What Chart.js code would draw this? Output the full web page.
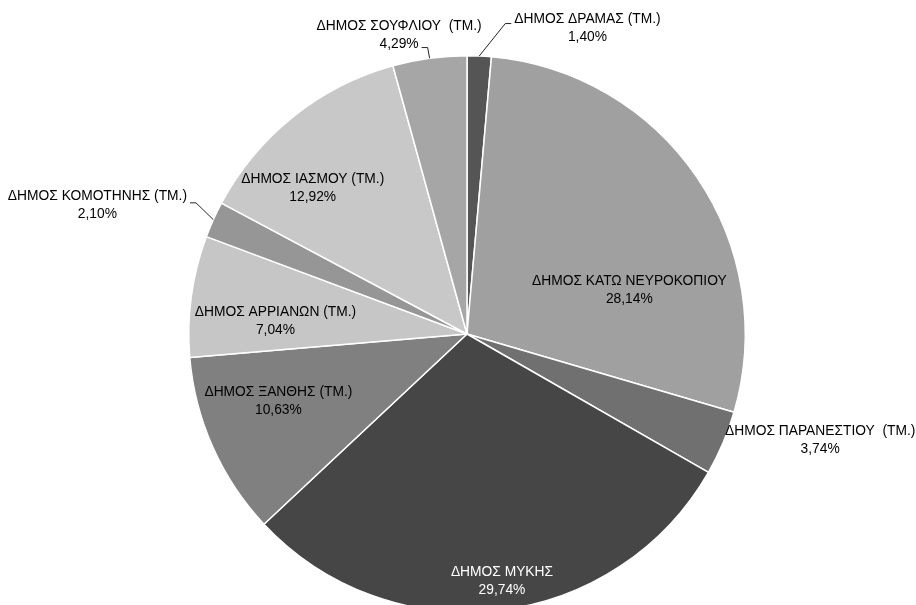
<!DOCTYPE html>
<html>
<head>
<meta charset="utf-8">
<script src="https://cdn.jsdelivr.net/npm/chart.js@4/dist/chart.umd.min.js"></script>
<style>
    html, body { margin: 0; padding: 0; background: #fff; }
    #wrap { width: 916px; height: 605px; overflow: hidden; position: relative; }
</style>
</head>
<body>
<div id="wrap"><canvas id="pieChart" width="916" height="668"></canvas></div>
<script>
const municipalities = [
    "ΔΗΜΟΣ ΔΡΑΜΑΣ (ΤΜ.)",
    "ΔΗΜΟΣ ΚΑΤΩ ΝΕΥΡΟΚΟΠΙΟΥ",
    "ΔΗΜΟΣ ΠΑΡΑΝΕΣΤΙΟΥ  (ΤΜ.)",
    "ΔΗΜΟΣ ΜΥΚΗΣ",
    "ΔΗΜΟΣ ΞΑΝΘΗΣ (ΤΜ.)",
    "ΔΗΜΟΣ ΑΡΡΙΑΝΩΝ (ΤΜ.)",
    "ΔΗΜΟΣ ΚΟΜΟΤΗΝΗΣ (ΤΜ.)",
    "ΔΗΜΟΣ ΙΑΣΜΟΥ (ΤΜ.)",
    "ΔΗΜΟΣ ΣΟΥΦΛΙΟΥ  (ΤΜ.)"
];
const shares = [1.40, 28.14, 3.74, 29.74, 10.63, 7.04, 2.10, 12.92, 4.29];

const sliceColors = ["#555555", "#a0a0a0", "#707070", "#464646", "#808080",
                     "#c6c6c6", "#969696", "#c8c8c8", "#a6a6a6"];
const labelColors = ["#000", "#000", "#000", "#fff", "#000", "#000", "#000", "#000", "#000"];

// label placement: radius fraction + angle shift (deg) from the slice middle
const placement = [
    { frac: 1.18, shift: 19.0, leader: { side: "left", line: 0, dy: -5 } },
    { frac: 0.604, shift: 19.3 },
    { frac: 1.325, shift: -6.4 },
    { frac: 0.896, shift: -1.4 },
    { frac: 0.72, shift: 4.3 },
    { frac: 0.69, shift: -3.9 },
    { frac: 1.407, shift: -5, leader: { side: "right", line: 0, dy: -2 } },
    { frac: 0.763, shift: -7.9 },
    { frac: 1.10, shift: -5.1, leader: { side: "right", line: 1, dy: 12 } }
];

function formatPct(v) {
    return v.toFixed(2).replace(".", ",") + "%";
}

const sliceLabels = {
    id: "sliceLabels",
    afterDatasetsDraw(chart) {
        const ctx = chart.ctx;
        const arcs = chart.getDatasetMeta(0).data;
        ctx.save();
        ctx.font = '13.8px "Liberation Sans", Arial, sans-serif';
        ctx.textAlign = "center";
        ctx.textBaseline = "middle";
        arcs.forEach((arc, i) => {
            const p = placement[i];
            const mid = (arc.startAngle + arc.endAngle) / 2;
            const a = mid + p.shift * Math.PI / 180;
            const r = arc.outerRadius * p.frac;
            const x = arc.x + Math.cos(a) * r;
            const y = arc.y + Math.sin(a) * r;
            const lines = [municipalities[i], formatPct(shares[i])];
            ctx.fillStyle = labelColors[i];
            ctx.fillText(lines[0], x, y - 9);
            ctx.fillText(lines[1], x, y + 9);
            if (p.leader) {
                const w = ctx.measureText(lines[p.leader.line]).width;
                const dir = p.leader.side === "left" ? -1 : 1;
                const ax = x + dir * (w / 2 + 3);
                const ay = y + p.leader.dy;
                const ex = ax + dir * 6;
                const px = arc.x + Math.cos(mid) * arc.outerRadius;
                const py = arc.y + Math.sin(mid) * arc.outerRadius;
                ctx.strokeStyle = "#262626";
                ctx.lineWidth = 1;
                ctx.beginPath();
                ctx.moveTo(ax, ay);
                ctx.lineTo(ex, ay);
                ctx.lineTo(px, py);
                ctx.stroke();
            }
        });
        ctx.restore();
    }
};

document.addEventListener("DOMContentLoaded", function () {
    let ctx = document.getElementById("pieChart").getContext("2d");
    new Chart(ctx, {
        type: "pie",
        data: {
            labels: municipalities,
            datasets: [{
                data: shares,
                backgroundColor: sliceColors,
                borderColor: "#ffffff",
                borderWidth: 1.5
            }]
        },
        options: {
            responsive: false,
            animation: false,
            devicePixelRatio: 1,
            layout: {
                padding: { top: 55, bottom: 55, left: 18, right: 0 }
            },
            plugins: {
                legend: { display: false },
                tooltip: { enabled: false }
            }
        },
        plugins: [sliceLabels]
    });
});
</script>
</body>
</html>
